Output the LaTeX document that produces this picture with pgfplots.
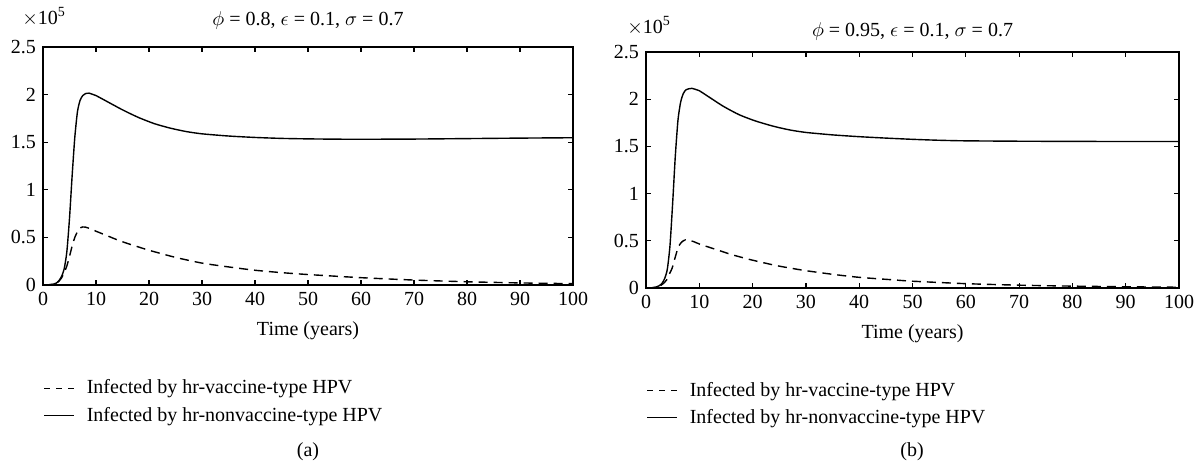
\documentclass[border=0pt]{standalone}
\usepackage{pgfplots}
\pgfplotsset{compat=1.18}
\usepackage{fontspec}
\setmainfont{Liberation Serif}

% data in units of 10^5
\newcommand{\vacA}{(0,0) (1,0.001) (2,0.008) (2.5,0.018) (3,0.04) (3.5,0.075) (4,0.13) (4.5,0.2) (5,0.3) (5.5,0.41) (6,0.5) (6.5,0.56) (7,0.6) (7.5,0.61) (8,0.608) (9,0.59) (10,0.565) (12,0.52) (14,0.475) (16,0.435) (18,0.4) (20,0.365) (25,0.29) (30,0.23) (35,0.19) (40,0.155) (45,0.13) (50,0.11) (60,0.077) (70,0.052) (80,0.034) (90,0.022) (100,0.014)}
\newcommand{\nonA}{(0,0) (1,0.002) (2,0.01) (2.5,0.02) (3,0.045) (3.5,0.09) (4,0.17) (4.5,0.35) (5,0.7) (5.5,1.15) (6,1.55) (6.5,1.82) (7,1.94) (7.5,1.99) (8,2.01) (8.7,2.015) (9.5,2.0) (10,1.99) (12,1.93) (15,1.84) (18,1.76) (21,1.695) (24,1.648) (27,1.612) (30,1.588) (35,1.565) (40,1.55) (45,1.54) (50,1.535) (55,1.532) (60,1.531) (70,1.533) (80,1.538) (90,1.543) (100,1.547)}
\newcommand{\vacB}{(0,0) (1,0.001) (2,0.008) (2.7,0.025) (3.3,0.05) (3.9,0.088) (4.4,0.15) (4.9,0.21) (5.5,0.33) (6.1,0.44) (6.75,0.49) (7.4,0.51) (8,0.508) (9,0.49) (10.2,0.462) (13.3,0.405) (16,0.355) (19.6,0.3) (24.6,0.236) (29.6,0.187) (35,0.145) (40,0.113) (46,0.088) (50,0.072) (60,0.046) (70,0.03) (80,0.02) (90,0.013) (100,0.008)}
\newcommand{\nonB}{(0,0) (1,0.002) (2,0.012) (2.5,0.025) (3,0.05) (3.5,0.1) (4,0.2) (4.5,0.45) (5,0.9) (5.5,1.4) (6,1.78) (6.5,1.97) (7,2.06) (7.5,2.1) (8,2.11) (8.6,2.115) (9.5,2.1) (10,2.09) (11.5,2.035) (14.5,1.925) (17.5,1.835) (20.5,1.77) (24,1.712) (27,1.674) (30,1.648) (35,1.622) (40,1.603) (45,1.588) (50,1.575) (55,1.565) (60,1.559) (70,1.555) (80,1.553) (90,1.552) (100,1.552)}

\pgfplotsset{
  hpv/.style={
    anchor=south west, scale only axis, clip mode=individual,
    xmin=0, xmax=100, ymin=0, ymax=2.5,
    xtick={0,10,...,100}, ytick={0,0.5,1,1.5,2,2.5},
    yticklabels={0,0.5,1,1.5,2,2.5},
    tick align=inside, xtick pos=both, ytick pos=both,
    major tick length=2.5pt,
    axis line style={line width=0.9pt},
    tick style={line width=0.6pt, black},
    /pgf/number format/assume math mode=true,
    font=\fontsize{10}{12}\selectfont,
    xlabel={Time (years)},
    xlabel style={yshift=-1pt},
    legend style={at={(0,-0.38)}, anchor=north west, draw=none, fill=none,
      font=\fontsize{10}{12}\selectfont, row sep=1pt, inner sep=0pt,
      /tikz/every odd column/.style={column sep=4pt}},
    legend cell align=left,
    legend image code/.code={\draw[#1] (0pt,0pt) -- (15pt,0pt);},
    title style={at={(0.5,1)}, anchor=base},
  },
  vac/.style={black, line width=0.7pt, dash pattern=on 4.5pt off 3pt, smooth, tension=0.4},
  non/.style={black, line width=0.7pt, smooth, tension=0.4},
  vacleg/.style={black, line width=0.7pt, dash pattern=on 3pt off 3pt},
}

\begin{document}
\begin{tikzpicture}[font=\fontsize{10}{12}\selectfont]
\useasboundingbox (0,0) rectangle (601pt,-232.5pt);

\begin{axis}[hpv, at={(21.5pt,-142.5pt)}, width=265pt, height=119pt,
  title={$\phi$ = 0.8, $\epsilon$ = 0.1, $\sigma$ = 0.7},
  title style={yshift=5pt}]
\addplot[vac, forget plot] coordinates {\vacA};
\addlegendimage{vacleg}
\addlegendentry{Infected by hr-vaccine-type HPV}
\addplot[non] coordinates {\nonA};
\addlegendentry{Infected by hr-nonvaccine-type HPV}
\node[anchor=base west, inner sep=0pt, xshift=-10.5pt, yshift=11.5pt] at (rel axis cs:0,1) {$\times$10\textsuperscript{5}};
\end{axis}

\begin{axis}[hpv, at={(323pt,-144pt)}, width=266.5pt, height=118pt,
  title={$\phi$ = 0.95, $\epsilon$ = 0.1, $\sigma$ = 0.7},
  title style={yshift=2pt}]
\addplot[vac, forget plot] coordinates {\vacB};
\addlegendimage{vacleg}
\addlegendentry{Infected by hr-vaccine-type HPV}
\addplot[non] coordinates {\nonB};
\addlegendentry{Infected by hr-nonvaccine-type HPV}
\node[anchor=base west, inner sep=0pt, xshift=-9.5pt, yshift=9.5pt] at (rel axis cs:0,1) {$\times$10\textsuperscript{5}};
\end{axis}

\node at (154pt,-226pt) {(a)};
\node at (456pt,-226pt) {(b)};
\end{tikzpicture}
\end{document}
